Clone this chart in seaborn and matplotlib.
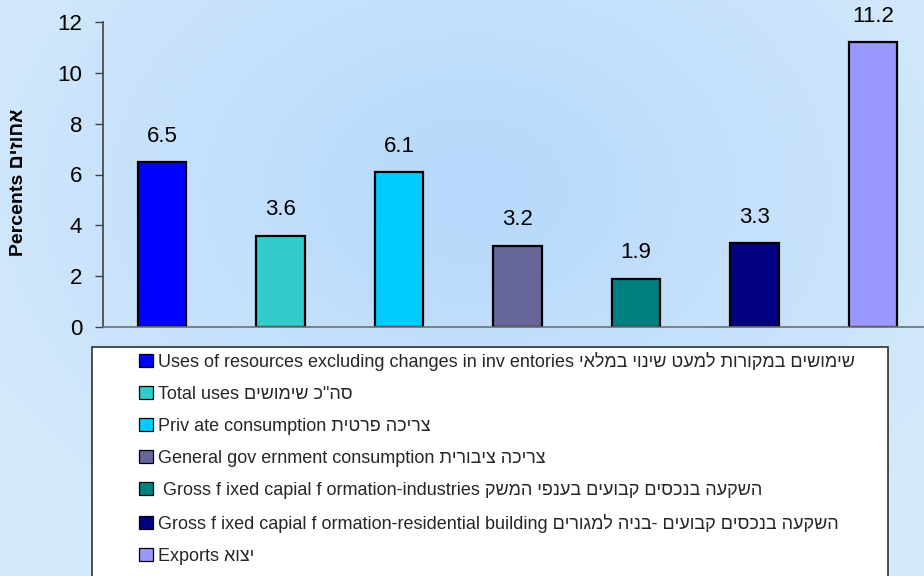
import re
import numpy as np
import pandas as pd
import matplotlib
matplotlib.use("Agg")
import matplotlib.pyplot as plt
from matplotlib.patches import Patch, Rectangle
import seaborn as sns

# ---- data ----
categories = [
    "Uses of resources excluding changes in inv entories שימושים במקורות למעט שינוי במלאי",
    "Total uses סה\"כ שימושים",
    "Priv ate consumption צריכה פרטית",
    "General gov ernment consumption צריכה ציבורית",
    " Gross f ixed capial f ormation-industries השקעה בנכסים קבועים בענפי המשק",
    "Gross f ixed capial f ormation-residential building השקעה בנכסים קבועים -בניה למגורים",
    "Exports יצוא",
]
values = [6.5, 3.6, 6.1, 3.2, 1.9, 3.3, 11.2]
colors = ["#0000FF", "#33CCCC", "#00CCFF", "#666699", "#008080", "#000080", "#9999FF"]
y_ticks = [0, 2, 4, 6, 8, 10, 12]
y_label = "Percents אחוזים"


def visual(s):
    """Simple bidi: reverse runs of Hebrew text so they display right-to-left."""
    return re.sub(r'[\u0590-\u05FF][\u0590-\u05FF\s"\'\-]*[\u0590-\u05FF]|[\u0590-\u05FF]',
                  lambda m: m.group(0)[::-1], s)


sns.set_style("white")
plt.rcParams['font.family'] = ['Liberation Sans', 'DejaVu Sans Condensed', 'DejaVu Sans']

fig = plt.figure(figsize=(9.24, 5.76), dpi=100)

# background gradient
bg = fig.add_axes([0, 0, 1, 1], zorder=-10)
H, W = 576, 924
yy, xx = np.mgrid[0:H, 0:W]
r = np.sqrt(((xx - 470) / 560.0) ** 2 + ((yy - 190) / 420.0) ** 2)
r = np.clip(r, 0, 1)
c0 = np.array([182, 216, 251]) / 255.0
c1 = np.array([212, 233, 252]) / 255.0
img = c0[None, None, :] * (1 - r[..., None]) + c1[None, None, :] * r[..., None]
bg.imshow(img, aspect='auto', extent=[0, 1, 0, 1], origin='upper')
bg.set_axis_off()

ax = fig.add_axes([103 / 924, 1 - 327 / 576, 829 / 924, 305 / 576])
ax.set_facecolor('none')

df = pd.DataFrame({"cat": categories, "val": values})
sns.barplot(data=df, x="cat", y="val", hue="cat", palette=colors, width=0.41,
            dodge=False, edgecolor="black", linewidth=1.6, legend=False, ax=ax,
            saturation=1)

ax.set_ylim(0, 12)
ax.set_xlim(-0.5, 6.5)
ax.set_yticks(y_ticks)
ax.set_yticklabels([str(t) for t in y_ticks], fontsize=16, color='black')
ax.tick_params(axis='y', direction='out', length=6, width=1, color='#404040', pad=9, left=True)
ax.tick_params(axis='x', bottom=False, labelbottom=False)
ax.set_xlabel("")
ax.set_ylabel(visual(y_label), fontsize=14, fontweight='bold', color='black')
ax.yaxis.set_label_coords(-0.092, 0.475)

for s in ["top", "right"]:
    ax.spines[s].set_visible(False)
ax.spines["left"].set_color('#404040')
ax.spines["left"].set_linewidth(1.2)
ax.spines["bottom"].set_color('#707070')
ax.spines["bottom"].set_linewidth(1.2)

for cont in ax.containers:
    ax.bar_label(cont, fmt='%.1f', padding=11, fontsize=16, color='black')

# legend box
fig.patches.append(Rectangle((92 / 924, -0.05), (888 - 92) / 924, 0.05 + 1 - 347 / 576,
                             transform=fig.transFigure, facecolor='white',
                             edgecolor='#303030', linewidth=1.2, zorder=1))

handles = [Patch(facecolor=c, edgecolor='black', linewidth=0.9) for c in colors]
fig.legend(handles, [visual(c) for c in categories], loc='upper left',
           bbox_to_anchor=(139 / 924, 1 - 352 / 576), frameon=False,
           fontsize=13, handlelength=0.75, handleheight=0.75, handletextpad=0.3,
           labelspacing=0.83, borderpad=0, borderaxespad=0)

fig.savefig("out.png", dpi=100)
